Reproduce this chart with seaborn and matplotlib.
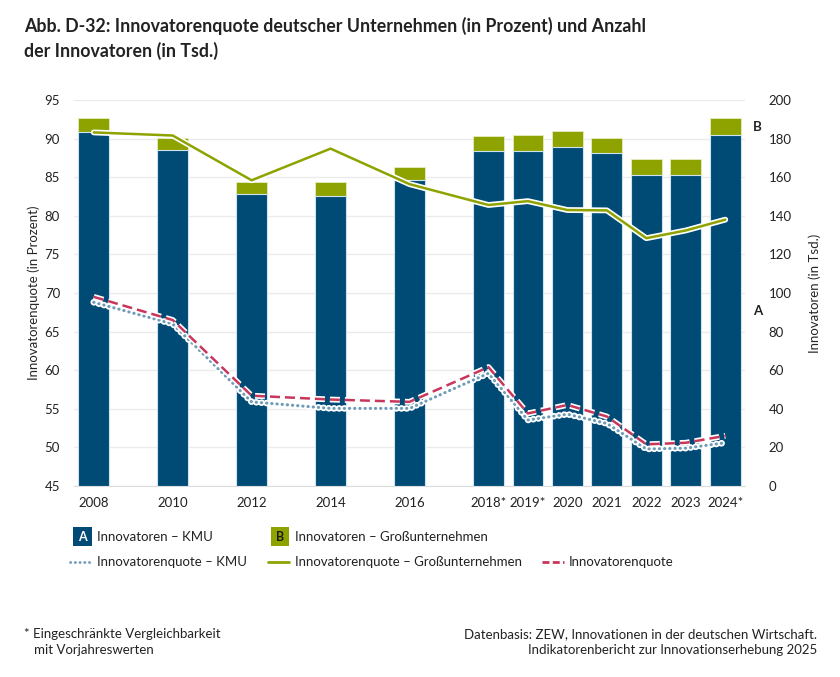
import numpy as np
import pandas as pd
import seaborn as sns
import matplotlib.pyplot as plt
import matplotlib.patheffects as pe
from matplotlib.patches import Rectangle, Patch
from matplotlib.lines import Line2D
from matplotlib.legend_handler import HandlerBase
from matplotlib.text import Text

# Daten
jahre = [2008, 2010, 2012, 2014, 2016, 2018, 2019, 2020, 2021, 2022, 2023, 2024]
jahr_labels = ['2008', '2010', '2012', '2014', '2016', '2018*', '2019*',
               '2020', '2021', '2022', '2023', '2024*']
innovatoren_kmu = [183.5, 174.0, 151.3, 150.3, 158.5, 173.7, 173.4, 175.5, 172.4, 161.3, 161.0, 181.7]
innovatoren_gu = [7.0, 6.2, 6.2, 7.2, 6.9, 7.8, 8.5, 8.4, 7.8, 8.1, 8.3, 9.0]
quote_gu = [90.8, 90.4, 84.6, 88.7, 84.1, 81.4, 81.9, 80.75, 80.7, 77.1, 78.1, 79.5]
quote_gesamt = [69.5, 66.5, 56.7, 56.2, 55.9, 60.4, 54.4, 55.5, 54.0, 50.4, 50.6, 51.5]
quote_kmu = [68.8, 66.0, 55.9, 55.05, 55.05, 59.6, 53.55, 54.3, 53.1, 49.8, 49.9, 50.6]

df = pd.DataFrame({'jahr': jahre, 'kmu': innovatoren_kmu, 'gu': innovatoren_gu,
                   'q_gu': quote_gu, 'q_ges': quote_gesamt, 'q_kmu': quote_kmu})
df['gesamt'] = df['kmu'] + df['gu']

BLAU = '#004b76'
GRUEN = '#8fa300'
ROT = '#c8365b'
PUNKT = '#6d9bb8'
TEXT = '#222222'

sns.set_theme(style='white')
plt.rcParams['font.family'] = ['Lato', 'DejaVu Sans']
plt.rcParams['text.color'] = TEXT

fig = plt.figure(figsize=(8.4, 6.77), dpi=100)
ax = fig.add_axes([74 / 840, 1 - 486 / 677, (745 - 74) / 840, (486 - 100) / 677])
ax2 = ax.twinx()

# Balken (rechte Achse, in Tsd.)
sns.barplot(data=df, x='jahr', y='gesamt', native_scale=True, width=0.78,
            color=GRUEN, saturation=1, edgecolor='#e6efc0', linewidth=0.6, ax=ax, zorder=2)
sns.barplot(data=df, x='jahr', y='kmu', native_scale=True, width=0.78,
            color=BLAU, saturation=1, edgecolor='#cfe3ee', linewidth=0.8, ax=ax, zorder=3)

ax.set_xlim(2007.5, 2024.5)
ax.set_ylim(0, 200)
ax.set_yticks(np.arange(0, 201, 20))
ax.yaxis.tick_right()
ax.yaxis.set_label_position('right')
ax.set_ylabel('Innovatoren (in Tsd.)', fontsize=9.5, labelpad=12)
ax.set_xlabel('')
ax.tick_params(axis='y', length=0, pad=17, labelsize=9.5, labelcolor=TEXT)
ax.grid(axis='y', color='#ebebeb', linewidth=1, zorder=0)
ax.set_axisbelow(True)

ax.set_xticks(jahre)
ax.set_xticklabels(jahr_labels)
ax.set_xticks(np.arange(2007.5, 2025, 1), minor=True)
ax.tick_params(axis='x', which='major', length=0, pad=8, labelsize=9.5, labelcolor=TEXT)
ax.tick_params(axis='x', which='minor', length=5, color='#dddddd', width=0.8)
for s in ['top', 'left', 'right']:
    ax.spines[s].set_visible(False)
ax.spines['bottom'].set_color('#dddddd')
ax.spines['bottom'].set_linewidth(0.8)

# Kennzeichnung A/B am letzten Balken
trans = ax.get_yaxis_transform()
ax.text(1.012, df['kmu'].iloc[-1] + df['gu'].iloc[-1] / 2, 'B', transform=trans,
        fontsize=9.5, fontweight='bold', va='center', ha='left')
ax.text(1.012, df['kmu'].iloc[-1] / 2, 'A', transform=trans,
        fontsize=9.5, fontweight='bold', va='center', ha='left')

# Linien (linke Achse, in Prozent)
ax2.yaxis.tick_left()
ax2.yaxis.set_label_position('left')
ax2.set_ylim(45, 95)
ax2.set_yticks(np.arange(45, 96, 5))
ax2.tick_params(axis='y', length=0, pad=10, labelsize=9.5, labelcolor=TEXT)
ax2.set_ylabel('Innovatorenquote (in Prozent)', fontsize=9.5, labelpad=3)
for s in ax2.spines.values():
    s.set_visible(False)

halo = [pe.Stroke(linewidth=4.2, foreground='white'), pe.Normal()]
sns.lineplot(data=df, x='jahr', y='q_gu', color=GRUEN, linewidth=1.8, ax=ax2,
             path_effects=halo, legend=False)
sns.lineplot(data=df, x='jahr', y='q_kmu', color=PUNKT, linewidth=2.2,
             linestyle=(0, (0.1, 1.6)), dash_capstyle='round', ax=ax2,
             path_effects=[pe.Stroke(linewidth=4.8, foreground='white'), pe.Normal()],
             legend=False)
sns.lineplot(data=df, x='jahr', y='q_ges', color=ROT, linewidth=1.8,
             linestyle=(0, (4, 2)), ax=ax2, path_effects=halo, legend=False)
ax2.set_xlim(2007.5, 2024.5)
ax2.set_xlabel('')


# Legende mit Buchstaben-Kästchen
class BuchstabenBox(HandlerBase):
    def __init__(self, buchstabe, fc, tc):
        super().__init__()
        self.buchstabe, self.fc, self.tc = buchstabe, fc, tc

    def create_artists(self, legend, orig_handle, xdescent, ydescent, width, height, fontsize, trans):
        g = 13.5
        x0 = width - g
        y0 = height / 2 - g / 2
        r = Rectangle((x0, y0), g, g, facecolor=self.fc, edgecolor='none', transform=trans)
        t = Text(x0 + g / 2, height / 2 - 0.5, self.buchstabe, color=self.tc, ha='center', va='center',
                 fontsize=9, fontweight='bold', transform=trans)
        return [r, t]


h_a = Patch(color=BLAU)
h_b = Patch(color=GRUEN)
h_kmu = Line2D([], [], color=PUNKT, linewidth=2, linestyle=(0, (0.1, 1.6)), dash_capstyle='round')
h_gu = Line2D([], [], color=GRUEN, linewidth=2)
h_ges = Line2D([], [], color=ROT, linewidth=2, linestyle=(0, (2.5, 1.2)))
h_leer = Line2D([], [], color='none')

fig.legend([h_a, h_kmu, h_b, h_gu, h_leer, h_ges],
           ['Innovatoren – KMU', 'Innovatorenquote – KMU',
            'Innovatoren – Großunternehmen', 'Innovatorenquote – Großunternehmen',
            '', 'Innovatorenquote'],
           handler_map={h_a: BuchstabenBox('A', BLAU, 'white'),
                        h_b: BuchstabenBox('B', GRUEN, '#1a1a1a')},
           ncol=3, loc='upper left', bbox_to_anchor=(70 / 840, 1 - 531 / 677),
           frameon=False, fontsize=9.5, handlelength=1.65, handletextpad=0.4,
           columnspacing=1.55, labelspacing=1.0, borderpad=0, borderaxespad=0)

# Titel und Fußnoten
fig.text(24 / 840, 1 - 17 / 677,
         'Abb. D-32: Innovatorenquote deutscher Unternehmen (in Prozent) und Anzahl\nder Innovatoren (in Tsd.)',
         fontsize=12.8, fontweight='bold', va='top', ha='left', linespacing=1.45)
fig.text(24 / 840, 1 - 642 / 677, '* Eingeschränkte Vergleichbarkeit\n   mit Vorjahreswerten',
         fontsize=9.5, va='center', ha='left', linespacing=1.35)
fig.text(817 / 840, 1 - 642 / 677,
         'Datenbasis: ZEW, Innovationen in der deutschen Wirtschaft.\nIndikatorenbericht zur Innovationserhebung 2025',
         fontsize=9.5, va='center', ha='right', multialignment='right', linespacing=1.35)

fig.savefig('out.png', dpi=100)
